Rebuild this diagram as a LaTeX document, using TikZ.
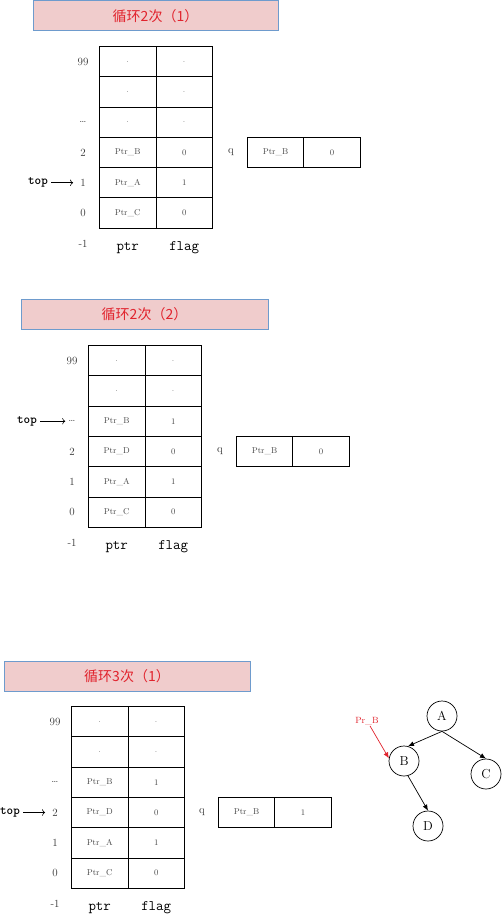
\documentclass[tikz,border=0pt]{standalone}
\usepackage{fontspec}
\newfontfamily\cjk{Noto Sans CJK SC}
\usetikzlibrary{arrows.meta,positioning}
\definecolor{titlefill}{RGB}{240,204,204}
\definecolor{titledraw}{RGB}{110,155,205}
\definecolor{titletext}{RGB}{225,35,45}
\definecolor{celltext}{RGB}{70,70,70}
\tikzset{
  titlebox/.style={
  draw=titledraw,
  fill=titlefill,
  line width=1pt,
  minimum width=245pt,
  minimum height=30pt,
  font=\cjk\fontsize{14}{16}\selectfont,
  text=titletext,
  },
  cell/.style={
  draw,
  line width=0.9pt,
  minimum width=56.5pt,
  minimum height=30.3pt,
  inner sep=0pt,
  font=\fontsize{8.5}{9}\selectfont,
  text=celltext,
  },
  idx/.style={font=\fontsize{11}{12}\selectfont, text=black!80, inner sep=0pt},
  colname/.style={font=\ttfamily\fontsize{14.5}{15}\selectfont, anchor=base, inner sep=0pt},
  toplbl/.style={font=\ttfamily\bfseries\fontsize{12.5}{13}\selectfont, inner sep=0pt},
  toparrow/.style={-{To[length=3pt]}, line width=0.6pt},
  vertex/.style={draw, circle, line width=0.7pt, minimum size=30pt, inner sep=0pt, font=\fontsize{13}{15}\selectfont},
}

\begin{document}
\begin{tikzpicture}[x=1pt, y=-1pt, >={Latex[length=6pt,width=5pt]}]
\useasboundingbox (0,0) rectangle (503,917);

% ---- loop 2, part 1
\node[titlebox] (h1) at (155.5,16) {循环2次（1）};

\begin{scope}[node distance=-\pgflinewidth and -\pgflinewidth]
\node[cell, anchor=north west] (t1p1) at (99,46) {.};
\node[cell, below=of t1p1] (t1p2) {.};
\node[cell, below=of t1p2] (t1p3) {.};
\node[cell, below=of t1p3] (t1p4) {Ptr\_B};
\node[cell, below=of t1p4] (t1p5) {Ptr\_A};
\node[cell, below=of t1p5] (t1p6) {Ptr\_C};

\node[cell, right=of t1p1] (t1f1) {.};
\node[cell, right=of t1p2] (t1f2) {.};
\node[cell, right=of t1p3] (t1f3) {.};
\node[cell, right=of t1p4] (t1f4) {0};
\node[cell, right=of t1p5] (t1f5) {1};
\node[cell, right=of t1p6] (t1f6) {0};

\node[cell, right=34pt of t1f4] (t1q1) {Ptr\_B};
\node[cell, right=of t1q1] (t1q2) {0};
\end{scope}

\foreach \r/\l in {1/99,3/\ldots,4/2,5/1,6/0}
  \node[idx] (t1i\r) at ([xshift=-16pt]t1p\r.west) {\l};
\node[idx] (t1i7) at ([yshift=-30.3pt]t1i6) {-1};
\node[idx] (t1q) at ([xshift=-16pt]t1q1.west) {q};
\node[colname] (t1ptr) at ([yshift=-22pt]t1p6.south) {ptr};
\node[colname] (t1flag) at ([yshift=-22pt]t1f6.south) {flag};

\node[toplbl] (t1top) at ([xshift=-45pt]t1i5) {top};
\draw[toparrow] ([xshift=3pt]t1top.east) -- ([xshift=-7pt]t1i5.west);

% ---- loop 2, part 2
\node[titlebox, minimum width=247pt] (h2) at (144.5,314) {循环2次（2）};

\begin{scope}[node distance=-\pgflinewidth and -\pgflinewidth]
\node[cell, anchor=north west] (t2p1) at (88,345) {.};
\node[cell, below=of t2p1] (t2p2) {.};
\node[cell, below=of t2p2] (t2p3) {Ptr\_B};
\node[cell, below=of t2p3] (t2p4) {Ptr\_D};
\node[cell, below=of t2p4] (t2p5) {Ptr\_A};
\node[cell, below=of t2p5] (t2p6) {Ptr\_C};

\node[cell, right=of t2p1] (t2f1) {.};
\node[cell, right=of t2p2] (t2f2) {.};
\node[cell, right=of t2p3] (t2f3) {1};
\node[cell, right=of t2p4] (t2f4) {0};
\node[cell, right=of t2p5] (t2f5) {1};
\node[cell, right=of t2p6] (t2f6) {0};

\node[cell, right=34pt of t2f4] (t2q1) {Ptr\_B};
\node[cell, right=of t2q1] (t2q2) {0};
\end{scope}

\foreach \r/\l in {1/99,3/\ldots,4/2,5/1,6/0}
  \node[idx] (t2i\r) at ([xshift=-16pt]t2p\r.west) {\l};
\node[idx] (t2i7) at ([yshift=-30.3pt]t2i6) {-1};
\node[idx] (t2q) at ([xshift=-16pt]t2q1.west) {q};
\node[colname] (t2ptr) at ([yshift=-22pt]t2p6.south) {ptr};
\node[colname] (t2flag) at ([yshift=-22pt]t2f6.south) {flag};

\node[toplbl] (t2top) at ([xshift=-45pt]t2i3) {top};
\draw[toparrow] ([xshift=3pt]t2top.east) -- ([xshift=-3pt]t2i3.west);

% ---- loop 3, part 1
\node[titlebox, minimum width=246pt] (h3) at (127,676.5) {循环3次（1）};

\begin{scope}[node distance=-\pgflinewidth and -\pgflinewidth]
\node[cell, anchor=north west] (t3p1) at (71,706) {.};
\node[cell, below=of t3p1] (t3p2) {.};
\node[cell, below=of t3p2] (t3p3) {Ptr\_B};
\node[cell, below=of t3p3] (t3p4) {Ptr\_D};
\node[cell, below=of t3p4] (t3p5) {Ptr\_A};
\node[cell, below=of t3p5] (t3p6) {Ptr\_C};

\node[cell, right=of t3p1] (t3f1) {.};
\node[cell, right=of t3p2] (t3f2) {.};
\node[cell, right=of t3p3] (t3f3) {1};
\node[cell, right=of t3p4] (t3f4) {0};
\node[cell, right=of t3p5] (t3f5) {1};
\node[cell, right=of t3p6] (t3f6) {0};

\node[cell, right=33pt of t3f4] (t3q1) {Ptr\_B};
\node[cell, right=of t3q1] (t3q2) {1};
\end{scope}

\foreach \r/\l in {1/99,3/\ldots,4/2,5/1,6/0}
  \node[idx] (t3i\r) at ([xshift=-16pt]t3p\r.west) {\l};
\node[idx] (t3i7) at ([yshift=-30.3pt]t3i6) {-1};
\node[idx] (t3q) at ([xshift=-16pt]t3q1.west) {q};
\node[colname] (t3ptr) at ([yshift=-22pt]t3p6.south) {ptr};
\node[colname] (t3flag) at ([yshift=-22pt]t3f6.south) {flag};

\node[toplbl] (t3top) at ([xshift=-45pt]t3i4) {top};
\draw[toparrow] ([xshift=3pt]t3top.east) -- ([xshift=-7pt]t3i4.west);

% ---- the tree
\node[vertex] (A) at (442,716) {A};
\node[vertex] (B) at (404,761) {B};
\node[vertex] (C) at (486,774) {C};
\node[vertex] (D) at (428,826) {D};

\draw[->, line width=0.7pt] (A.south) -- (B.75);
\draw[->, line width=0.7pt] (A.south) -- (C.north);
\draw[->, line width=0.7pt] (B.-75) -- (D.north);

\node[font=\fontsize{9}{10}\selectfont, text=titletext, inner sep=1pt] (prb) at (367,721) {Pr\_B};
\draw[->, titletext, line width=0.7pt] ([xshift=3pt]prb.south) -- (B.170);

\end{tikzpicture}
\end{document}
